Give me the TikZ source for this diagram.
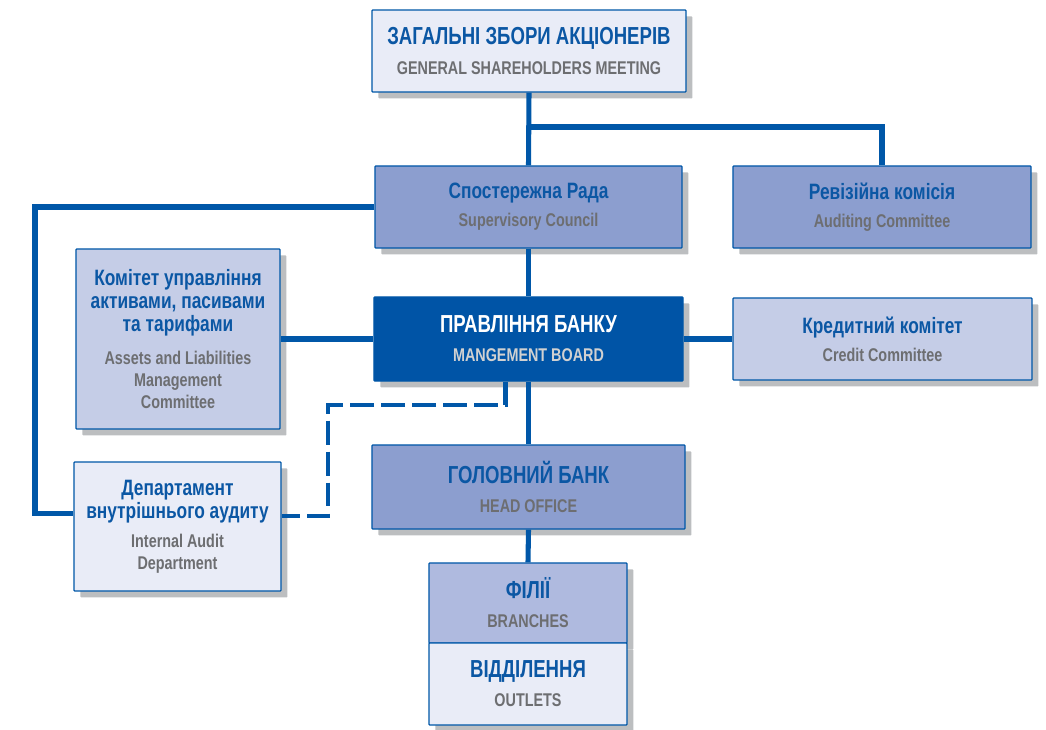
\documentclass[tikz,border=0pt]{standalone}
\usepackage{fontspec}
\setmainfont{Liberation Sans}[FakeStretch=0.78]
\newfontfamily\capsfam{Liberation Sans}[FakeStretch=0.755]
\usetikzlibrary{positioning,calc,shadows}

\definecolor{lineblue}{HTML}{0057A8}
\definecolor{titleblue}{HTML}{0B57A4}
\definecolor{subgray}{HTML}{6D6E71}
\definecolor{paleblue}{HTML}{E9ECF7}
\definecolor{lightblue}{HTML}{C5CDE7}
\definecolor{midblue}{HTML}{8C9ECF}
\definecolor{branchblue}{HTML}{AFBADF}
\definecolor{darkblue}{HTML}{0054A6}
\definecolor{shadowgray}{HTML}{BCBEC0}

\newcommand{\bigua}{\capsfam\fontsize{17.5}{21}\selectfont\bfseries}
\newcommand{\midua}{\fontsize{15.8}{17}\selectfont\bfseries}
\newcommand{\ensub}{\fontsize{13.1}{15.6}\selectfont\bfseries}
\newcommand{\bigttl}[1]{\textcolor{titleblue}{\bigua #1}}
\newcommand{\midttl}[1]{\textcolor{titleblue}{\midua #1}}
\newcommand{\engl}[1]{\textcolor{subgray}{\ensub #1}}

\begin{document}
\begin{tikzpicture}[x=0.025cm, y=-0.025cm,
    box/.style={draw=lineblue, line width=0.9pt, rounded corners=0.6pt, align=center,
        font=\fontsize{12.5}{15.6}\selectfont, inner sep=0pt,
        drop shadow={shadow xshift=0.16cm, shadow yshift=-0.16cm, fill=shadowgray, opacity=1}},
    link/.style={draw=lineblue, line width=3.6pt},
    dashlink/.style={draw=lineblue, line width=3.2pt, dash pattern=on 17pt off 5pt}]
    \useasboundingbox (0,0) rectangle (1046,730);

    % top level
    \node[box, fill=paleblue, minimum width=7.85cm, minimum height=2.05cm] (gsm) at (529,51)
        {\bigttl{ЗАГАЛЬНІ ЗБОРИ АКЦІОНЕРІВ}\\[6pt]\engl{GENERAL SHAREHOLDERS MEETING}};
    \node[box, fill=midblue, minimum width=7.675cm, minimum height=2.05cm] (council) at (528.5,207)
        {\midttl{Спостережна Рада}\\[4.5pt]\engl{Supervisory Council}};
    \node[box, fill=midblue, minimum width=7.45cm, minimum height=2.05cm] (auditing) at (882,207)
        {\midttl{Ревізійна комісія}\\[4.5pt]\engl{Auditing Committee}};

    % board level
    \node[box, fill=darkblue, minimum width=7.725cm, minimum height=2.1cm] (board) at (528.5,339)
        {\textcolor{white}{\bigua ПРАВЛІННЯ БАНКУ}\\[5pt]\textcolor{black!18}{\ensub MANGEMENT BOARD}};
    \node[box, fill=lightblue, minimum width=5.1cm, minimum height=4.5cm] (alco) at (178,339)
        {\midttl{Комітет управління}\\[1pt]\midttl{активами, пасивами}\\[1pt]\midttl{та тарифами}\\[8pt]
         \engl{Assets and Liabilities}\\\engl{Management}\\\engl{Committee}};
    \node[box, fill=lightblue, minimum width=7.475cm, minimum height=2.05cm] (credit) at (882.5,339)
        {\midttl{Кредитний комітет}\\[4.5pt]\engl{Credit Committee}};

    % lower level
    \node[box, fill=paleblue, minimum width=5.175cm, minimum height=3.225cm] (intaudit) at (177.5,526.5)
        {\midttl{Департамент}\\[1pt]\midttl{внутрішнього аудиту}\\[5pt]\engl{Internal Audit}\\\engl{Department}};
    \node[box, fill=midblue, minimum width=7.825cm, minimum height=2.1cm] (head) at (528.5,487)
        {\bigttl{ГОЛОВНИЙ БАНК}\\[5pt]\engl{HEAD OFFICE}};
    \node[box, fill=branchblue, minimum width=4.95cm, minimum height=2cm] (branches) at (528,603)
        {\bigttl{ФІЛІЇ}\\[5pt]\engl{BRANCHES}};
    \node[box, fill=paleblue, minimum width=4.95cm, minimum height=2.05cm] (outlets) at (528,684)
        {\bigttl{ВІДДІЛЕННЯ}\\[5pt]\engl{OUTLETS}};

    % connectors
    \coordinate (split) at (528,127);
    \coordinate (leftrail) at (35,0);
    \coordinate (dashbend) at (328,405);
    \coordinate (iaW) at ($(intaudit.north west)!0.4!(intaudit.south west)$);
    \coordinate (iaE) at ($(intaudit.north east)!0.42!(intaudit.south east)$);

    \draw[link] (gsm.south) -- (council.north);
    \draw[link] (split) -| (auditing.north);
    \draw[link] (council.west) -- (council.west -| leftrail) |- (iaW);
    \draw[link] (council.south) -- (board.north);
    \draw[link] (alco.east) -- (board.west);
    \draw[link] (board.east) -- (credit.west);
    \draw[link] (board.south) -- (head.north);
    \draw[link] (head.south) -- (branches.north);
    \draw[dashlink] ([xshift=-0.575cm]board.south) |- (dashbend) |- (iaE);
\end{tikzpicture}
\end{document}
